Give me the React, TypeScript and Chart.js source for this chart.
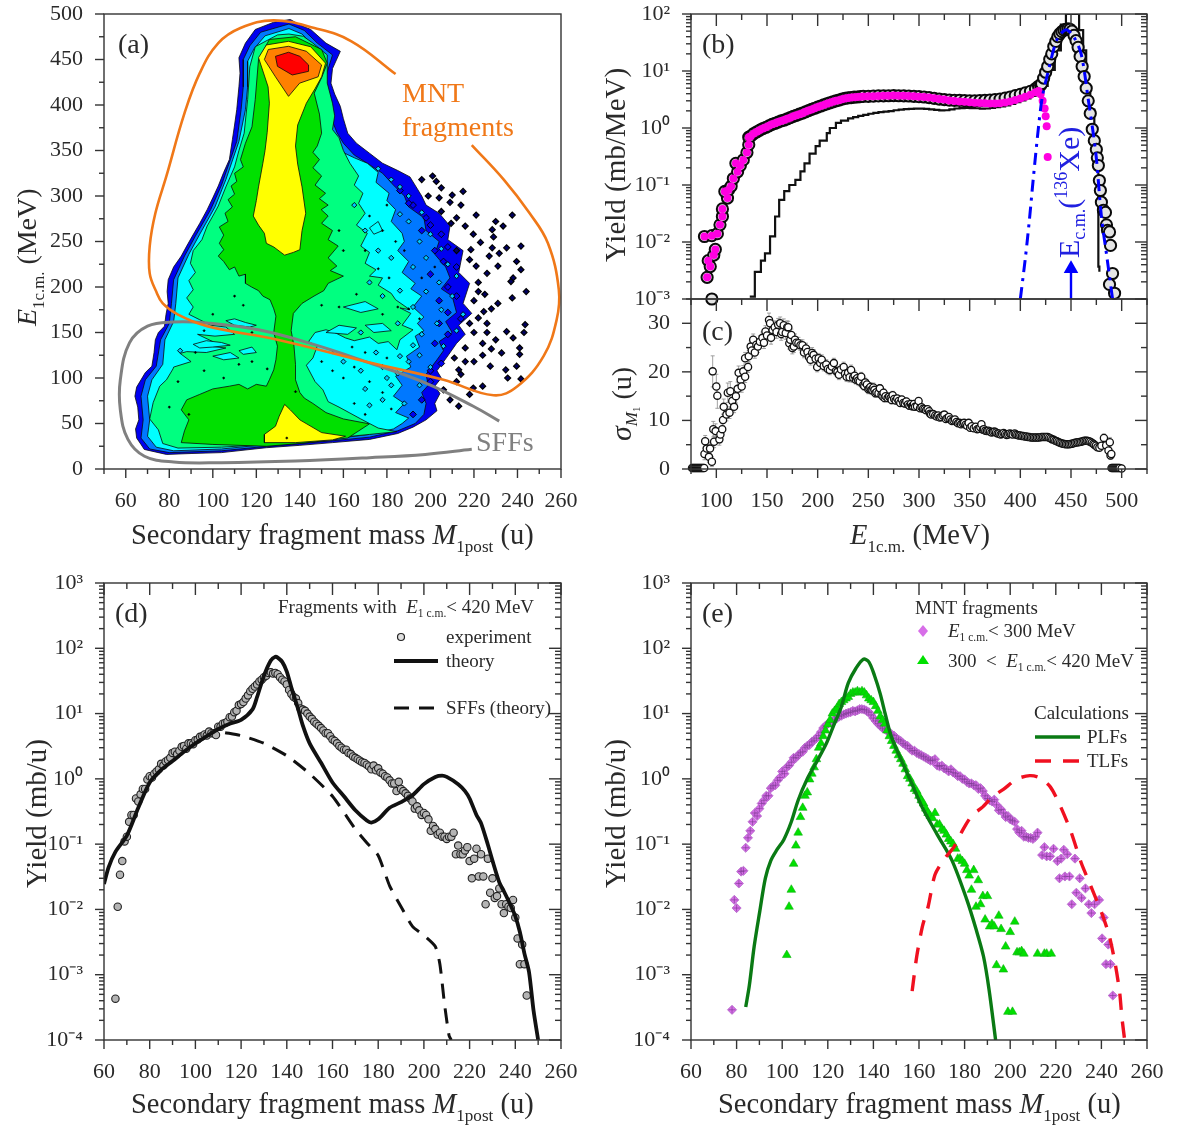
import React, { useEffect, useRef } from "react";
import { Chart, registerables } from "chart.js";
Chart.register(...registerables);

const W = 1177, H = 1126;
type P = [number, number];
const SERIF = '"Liberation Serif"';
const INK = "#2a2a2a";

// ---------- panel (a) contour levels ----------
const levelDarkBlue: P[] = [[135.6,494],[128,491],[119.5,483],[115,468],[112,452],[112.5,435],[112,420],[111,395],[110,378],[109,362],[107.6,340],[105,326],[102.5,311],[100,298],[97.4,285],[94,270],[90.6,256],[88,245],[85.5,234],[82,222],[79.5,208],[79,195],[79.5,182],[78.5,170],[77.8,157],[75,150],[73.6,142],[73,128],[72,113],[69,106],[67,98],[65,90],[64.2,80],[65.5,68],[66,54],[64.5,44],[65,34],[67,27],[68.5,21.5],[78.7,16],[90,17],[104,18],[124.6,23.4],[140,26],[155,29],[172,32.5],[185,39],[192,46],[198,54],[203,64],[202,72],[204.4,83],[202,91],[205,100],[203,108],[207.6,123],[212,138],[216,148],[213,158],[219,171],[215,182],[218,204],[213,216],[215,240],[208,252],[209,267],[204,281],[198,290],[196,300],[190.6,321],[185,328],[178,336],[172,347],[166,358],[162,369],[160,385],[158.6,398.5],[156,412],[154.3,424],[155,440],[158.6,459],[152,468],[145,483],[140,488]];
const levelMidBlue: P[] = [[135,489],[122,480],[117,465],[114,450],[114,420],[113,395],[111,360],[104,312],[99,285],[92,256],[87,234],[82,208],[81,182],[80,160],[76,142],[74,113],[69,98],[67,80],[68,54],[67,34],[71,22],[80,18],[104,20],[125,25],[155,31],[172,35],[185,42],[193,50],[197,60],[198,72],[196,84],[199,92],[198,104],[203,120],[206,130],[204,140],[210,150],[207,162],[212,172],[210,190],[205,198],[209,210],[207,222],[202,236],[204,250],[198,262],[197,276],[190,288],[188,300],[183,312],[178,325],[171,336],[165,345],[160,358],[157,370],[155,382],[154,395],[151,424],[155,455],[148,468],[142,482]];
const levelCyan: P[] = [[135,484],[124,476],[119,462],[116,448],[116,420],[115,395],[112,360],[106,318],[101,288],[94,258],[89,236],[84,210],[83,182],[82,162],[78,142],[77,115],[72,98],[70,80],[71,54],[70,36],[74,24],[82,20],[104,22],[125,27],[155,33],[172,38],[183,44],[187,50],[190,56],[184,62],[188,72],[183,80],[187,92],[184,102],[191,112],[189,124],[195,134],[193,146],[197,152],[194,160],[197,167],[192,178],[196,190],[191,198],[193,204],[187,216],[190,228],[185,240],[188,250],[187,259],[182,272],[184,285],[180,295],[181,303],[175,315],[176,326],[171,336],[165,342],[158,350],[152,358],[150,370],[151,382],[150,395],[148,424],[152,452],[146,466],[141,478]];
const levelSpring: P[] = [[135,478],[129.7,477],[119.5,464],[117,442],[116,406],[114.4,369],[112,350],[110,332],[106,310],[102.5,289],[100,278],[97.4,267],[95,252],[91,240],[89.7,226],[92,216],[89,207],[91,197],[88,188],[91,178],[89,170],[94,164],[99,158],[106,156],[110,148],[101,146],[93,148],[100,140],[94,136],[106,133],[97,128],[88,129],[85,127],[90,118],[82,112],[81.7,110],[78.7,98],[75.6,91],[72.6,73],[71,55],[75,43],[77,28],[84,23],[104,24],[124.6,27],[155,34],[172,38],[184.5,41],[176,45],[172,50],[168,55],[163,61.5],[158,68],[153,74],[150.6,87],[147,96],[143,114],[146,122],[148,135],[144,140],[147,150],[152,153],[156,150],[161,144],[165,141],[172,145],[176,138],[180.6,140],[184.6,131],[186,142],[192,153],[187,158],[191,171],[186,177],[190.6,175],[184,186],[182,193],[176,202],[178,210],[172,212],[175,219],[170,226],[172,238],[168,245],[171,259],[166,268],[170,281],[167,292],[169,303],[165,312],[167,322],[163,336],[160,350],[158,364],[155,373],[156,388],[155,402],[152.6,424],[152.6,455],[146,468],[141.6,475.5]];
const levelGreen: P[] = [[138,475],[126,472],[121,450],[119.5,406],[118,376],[115,358],[112.7,340],[114,332],[110,325],[111,316],[108.4,311],[110,302],[107,296],[109,288],[105.6,281],[107,272],[103,266],[105,257],[103,248],[105,241],[102.5,234],[105,228],[107.6,219],[110,222],[112,212],[115,214],[115,204],[117.8,200],[121,196],[123,190],[126.3,186],[128,176],[129,168],[128,150],[129.7,135],[129,120],[128,109],[126,98],[124.6,91],[120,93],[116,88],[112,93],[107.6,91],[100,88],[94,82],[88,76],[85.5,65],[89,54],[87,42],[85.5,29],[100,27],[124.6,25],[140,28],[162,34],[172,49.6],[160,55],[152,62],[146,72],[142,78],[140,84],[138,98],[138,115],[137.3,135],[136,152],[137,171],[141,182],[146.5,190],[151,196],[153,204],[160,212],[154,218],[157,223],[153,232],[157.6,245],[153,252],[155,262],[150,270],[153,278],[149.8,285],[153,290],[149,297],[151.8,303],[147,312],[150,322],[146,331],[149,340],[146,348],[148,355],[150,369],[149,390],[146.6,413],[150,430],[152.6,446],[150,461]];
const levelYellowTop: P[] = [[134.8,470],[124.6,466],[121,452],[125.4,420],[126,402],[125,370],[124,350],[123,336],[121,310],[120,295],[118.6,278],[121,268],[123.7,259],[124.6,248],[128,244],[133,235],[137,238],[140,241],[141,262],[142.7,281],[141,310],[139,335],[138,355],[139,378],[143,402],[147,418],[150,431],[151.8,446],[145,464]];
const levelOrange: P[] = [[134.8,464.5],[125.5,461],[123.7,450],[128.8,431],[134.8,409.5],[139.9,424],[148.4,431],[150,444],[143,459]];
const levelRed: P[] = [[134.8,458],[128.8,453.5],[129.7,442.5],[136.5,433],[144,437],[144,444],[140,453.5]];
const levelYellowBottom: P[] = [[133,71],[130.5,58],[128.8,47],[123.7,38],[123.7,29],[138,29],[155,32],[161,36],[150,40],[140,54],[135.6,65]];
const cyanIslands: P[][] = [
  [[106,163],[110,165],[115,161],[120,158],[117,156],[110,158]],
  [[91,137],[97,141],[104,139],[108,136],[100,134],[94,133]],
  [[100,124],[108,128],[112,122],[105,120]],
  [[112,130],[118,134],[120,128],[114,126]],
  [[152,150],[158,158],[166,155],[162,148]],
  [[170,158],[178,160],[182,152],[174,150]],
  [[172,265],[176,272],[178,262],[174,258]],
  [[160,178],[170,184],[176,176],[168,172]],
];
const orangeCurve: P[] = [[184,434],[163.7,470],[146.7,484.6],[128,493],[112.7,484.6],[102.5,468],[94,435],[87,391],[78.7,322],[73.6,281],[71,245],[71,215],[74,195],[77,182],[83.8,170],[97.4,157],[129.7,142],[172,117],[206,98],[229,81],[240,91],[252,124],[258,164],[259,197],[254,248],[245.6,281],[233.7,318],[219,356]];
const grayCurve: P[] = [[231.6,52.6],[219.7,69],[197.6,94.7],[172,116.6],[146.7,136.7],[121,153],[97.4,160.5],[82,161.6],[70,157],[61.7,138.6],[57.5,98],[57.5,65],[61,32.5],[68.6,14],[82,7.7],[104,7],[138,8.8],[172,12.4],[197.6,16],[219,21.6]];
const speckles: P[] = [[201,322],[202.7,316],[196,318],[205,309],[199,300],[215,305],[210,301],[204,298],[209,293],[221,279],[214,290],[237.6,279],[230,272],[233.4,267],[212,276],[205,283],[209.5,270],[216,267],[228.4,263],[219.7,258],[229,255],[241.6,245],[235,243],[228.4,243],[223,249],[231.6,237],[239.6,228],[227,234],[218.6,241],[241.6,219],[238,210],[231,223],[226,215],[221,223],[237,206],[244,195],[237.6,188],[231,182],[224.5,173],[243.5,158.7],[243,150],[235,151],[238,144],[230,142],[241,133],[232.7,127.6],[227.5,113],[241,126],[239.6,113],[234.6,109],[235.5,100],[241.6,99],[214,104],[213,109],[224,91],[219.7,89],[218,82],[213,69],[206,87],[209,76],[226,160],[222,195],[218,230],[212,240],[220,150],[216,133],[224,125],[211,122],[222,205],[225,192],[220,185],[228,176],[222,166],[226,150],[218,160],[224,138],[228,132],[220,118],[216,118],[212,96]];
const blueBlobs: P[] = [[192,290],[198,276],[200,268],[205,258],[196,262],[208,244],[202,240],[206,228],[212,222],[200,214],[208,200],[212,190],[204,185],[208,172],[214,165],[204,160],[208,148],[202,138],[205,116],[200,108],[200,96],[196,76],[192,60],[190,292],[186,306]];
const innerPatches: P[] = [[190,300],[186,310],[182,318],[176,330],[196,282],[190,272],[200,258],[195,250],[205,242],[198,232],[208,225],[192,222],[212,212],[204,205],[210,190],[198,195],[205,175],[192,178],[215,170],[203,160],[212,152],[196,148],[206,135],[195,125],[200,112],[190,118],[185,105],[195,92],[182,92],[188,72],[178,76],[170,88],[160,118],[168,108],[175,128],[178,112],[186,124],[180,100],[172,70],[192,136],[186,196],[182,232],[186,280],[170,262],[176,240],[165,290],[172,205],[178,190],[168,150],[185,160],[85,130]];
const blackSpecks: P[] = [[180,290],[178,262],[172,278],[184,250],[176,220],[188,240],[181,210],[170,240],[185,178],[178,170],[164,134],[170,128],[180,122],[165,112],[172,96],[160,100],[155,108],[178,84],[165,72],[170,60],[182,66],[110,190],[118,150],[100,170],[96,108],[105,100],[92,128],[112,115],[96,152],[118,118],[84,96],[80,68],[89,60],[158,178],[166,192],[150,180],[155,128],[150,118],[196,210],[202,222],[190,176],[195,165],[160,240],[158,262],[134,34],[114,180],[125,110],[138,85]];

// ---------- panel (b) ----------
const bCircles: P[] = [[95.6,0.001],[88.3,0.0125],[90.9,0.0024],[92,0.0047],[94,0.0037],[97.5,0.0059],[99,0.0074],[95.6,0.0129],[101,0.014],[103.6,0.02],[106,0.028],[106,0.038],[111,0.059],[108.4,0.077],[112,0.082],[114.6,0.095],[116.8,0.13],[121,0.17],[119.3,0.24],[123.7,0.22],[126.6,0.275],[130.2,0.37],[132,0.51],[132,0.69],[134,0.72],[137,0.8],[140,0.86],[143,0.92],[146,0.98],[149,1.03],[152,1.09],[155,1.16],[158,1.21],[161,1.27],[164,1.33],[167,1.38],[170,1.45],[173,1.52],[176,1.6],[179,1.67],[182,1.75],[185,1.82],[188,1.92],[191,2.02],[194,2.12],[197,2.22],[200,2.33],[203,2.43],[206,2.54],[209,2.65],[212,2.77],[215,2.88],[218,3],[221,3.08],[224,3.2],[227,3.3],[230,3.37],[233,3.42],[236,3.47],[239,3.5],[242,3.55],[245,3.58],[250,3.6],[255,3.62],[260,3.65],[265,3.67],[270,3.68],[275,3.7],[280,3.68],[285,3.67],[290,3.64],[295,3.6],[300,3.55],[305,3.5],[310,3.42],[315,3.32],[320,3.22],[325,3.15],[330,3.08],[335,3.05],[340,3.05],[345,3.02],[350,3],[355,3],[360,3.02],[365,3.05],[370,3.1],[375,3.15],[380,3.22],[385,3.35],[390,3.5],[395,3.7],[400,3.9],[405,4.15],[410,4.4],[415,4.9],[418,5.4],[420,5.6],[421,6],[423,7.5],[425,9.5],[427,12],[429,16],[431,20],[433,27],[435,33],[437,40],[439,45],[441,49],[443,52],[445,54],[447,55],[449,54],[451,50],[453,42],[455,34],[457,26],[459,18],[461,12],[463,8],[465,5],[467,3],[469,1.8],[471,0.95],[473,0.6],[475,0.42],[476,0.3],[477,0.22],[478,0.12],[479,0.08],[480,0.05],[482,0.036],[484,0.033],[485,0.02],[486,0.016],[488,0.015],[489,0.0087],[491,0.0028],[488,0.0018],[493,0.00126]];
const bMagenta: P[] = [[88.3,0.0125],[90.9,0.0024],[92,0.0047],[94,0.0037],[97.5,0.0059],[99,0.0074],[95.6,0.0129],[101,0.014],[103.6,0.02],[106,0.028],[106,0.038],[111,0.059],[108.4,0.077],[112,0.082],[114.6,0.095],[116.8,0.13],[121,0.17],[119.3,0.24],[123.7,0.22],[126.6,0.275],[130.2,0.37],[132,0.51],[132,0.69],[134,0.72],[137,0.8],[140,0.86],[143,0.92],[146,0.98],[149,1.03],[152,1.09],[155,1.16],[158,1.21],[161,1.27],[164,1.33],[167,1.38],[170,1.45],[173,1.52],[176,1.6],[179,1.67],[182,1.75],[185,1.82],[188,1.92],[191,2.02],[194,2.12],[197,2.22],[200,2.33],[203,2.43],[206,2.54],[209,2.65],[212,2.77],[215,2.88],[218,3],[221,3.08],[224,3.2],[227,3.3],[230,3.37],[233,3.42],[236,3.47],[239,3.5],[242,3.55],[245,3.58],[250,3.6],[255,3.62],[260,3.65],[265,3.67],[270,3.68],[275,3.7],[280,3.68],[285,3.67],[290,3.64],[295,3.6],[300,3.55],[305,3.5],[310,3.42],[315,3.32],[320,3.22],[325,3.15],[330,3.05],[335,2.98],[340,2.92],[345,2.88],[350,2.82],[355,2.78],[360,2.75],[365,2.72],[370,2.7],[375,2.68],[380,2.72],[385,2.8],[390,2.92],[395,3.1],[400,3.3],[405,3.55],[410,3.85],[415,4.25],[418,4.45],[420,3.9],[422,3],[424,2.2],[425,1.6],[426,1.07],[427,0.31]];
const bHistogram: P[] = [[133,0.0011],[138,0.003],[144,0.0047],[148,0.0063],[153,0.0126],[158,0.028],[162,0.055],[167,0.078],[172,0.1],[178,0.123],[183,0.174],[187,0.24],[192,0.355],[198,0.48],[202,0.6],[209,0.81],[212,1],[218,1.23],[223,1.35],[230,1.48],[235,1.55],[240,1.63],[245,1.7],[250,1.78],[255,1.84],[260,1.9],[265,1.94],[270,1.98],[275,2.05],[280,2.1],[285,2.14],[290,2.17],[295,2.19],[300,2.19],[305,2.17],[310,2.13],[315,2.08],[320,2.04],[325,2.05],[330,2.12],[335,2.2],[340,2.24],[345,2.25],[350,2.24],[355,2.22],[360,2.19],[365,2.2],[370,2.25],[375,2.32],[380,2.4],[385,2.5],[390,2.65],[395,2.85],[400,3.05],[405,3.3],[410,3.65],[415,4.1],[420,4.7],[423,5.5],[427,10.5],[434,23],[440,65],[445,100],[453,100],[458,52],[462,23],[465,5.4],[469,2.1],[473,0.62],[475,0.21],[477,0.0037],[478,0.003]];
const bBlueCurve: P[] = [[400,0.001],[405,0.0053],[409,0.025],[412.6,0.12],[418,1.07],[421.7,3.5],[427,9],[436,35],[445,53],[452.6,40],[460,20],[467,3.2],[474.5,0.36],[480,0.028],[485.4,0.0055],[491,0.001]];
const bArrow: P[] = [[450,0.001],[450,0.0034]];

// ---------- panel (c) [E, sigma, error] ----------
const cPoints: [number, number, number][] = [[76,0.2,0],[77,0.2,0],[78,0.2,0],[79,0.2,0],[80,0.2,0],[81,0.2,0],[82,0.2,0],[83,0.2,0],[84,0.2,0],[85,0.2,0],[86,0.2,0],[87,0.2,0],[88,0.2,0],[89,5.7,1.2],[88.3,3.1,1.2],[90.5,4.2,1.2],[92.7,2.5,1.1],[95.6,1.5,1],[93.8,4.2,1.2],[96.4,20.1,3.2],[97.8,5.6,1.2],[97,8.2,1.6],[100,17,2.5],[101,15.1,2.6],[99.3,7.8,1.5],[103,6.1,1.2],[104,7.1,1.2],[105.8,8.2,1.2],[107.3,12.8,1.6],[106.6,10.1,1.2],[110,11.2,1.3],[111.3,15.7,2],[113,11.6,1.2],[113.8,16,2],[115.7,14,1.5],[117.5,12.8,1.2],[119.3,15,1.4],[121,16.5,1.4],[122,19.8,1.4],[124,18.4,1.3],[125,17,1.2],[126.6,20.1,1.2],[128.4,19,1.2],[128.4,22.8,1.2],[131.3,21,1.1],[132,23.2,1.2],[133.9,25.2,1.2],[135,24.4,1.2],[136.4,26.6,1.2],[138,24,1.2],[139.5,25.6,1.2],[141,25.2,1.2],[143,26.2,1.2],[145.5,27,1.2],[147,26,1.2],[148.5,28.3,1.2],[150,27.5,1.2],[152,30.7,1.4],[153,30,1.3],[154,27,1.3],[155.5,28.6,1.3],[157.6,29.2,1.3],[159.4,28.2,1.3],[161,29.7,1.3],[163,30,1.3],[164,27.8,1.3],[165,28.2,1.3],[166.5,29.6,1.3],[168.5,28,1.3],[170,29.2,1.3],[171,29.2,1.2],[172,25.9,1.2],[173,26.6,1.2],[174,27.6,1.2],[175,24.9,1.2],[176.5,25.2,1.2],[177.6,26.6,1.2],[179,26,1.2],[181,25.9,1.2],[183,25.5,1.1],[185,25.5,1.1],[186.5,24,1.1],[188.5,24.8,1.1],[190,24.1,1.1],[191.5,23,1.1],[193,22.5,1.1],[194.5,23.9,1.1],[196,23.5,1.1],[198,22.7,1],[199.5,21,1],[201,22.8,1],[202.5,21.8,1],[204,22.5,1],[206,21.2,1],[208.5,21.5,1],[210,20.6,1],[212,20.4,1],[214,21.1,1],[216,21.8,1],[218,20.2,1],[219.5,20,1],[221,19.4,1],[223,20.5,1],[225.7,21,1],[227,19.6,1],[228.6,19,1],[230,19.8,1],[231.5,18.9,1],[233,20.4,1],[235,18.8,1],[236.5,19.2,1],[237.7,18.4,0.9],[239,18.7,0.9],[240,18.2,0.9],[241.5,18,0.9],[243,19,0.9],[245,17.3,0.9],[246,17.1,0.9],[247,17.8,0.9],[248.6,17.4,0.9],[250,16.4,0.9],[251,16.6,0.9],[252,16.9,0.9],[253,16.3,0.9],[254,16.2,0.9],[255,16.8,0.9],[256,16.3,0.8],[257,15.6,0.8],[258,15.8,0.8],[260,15.6,0.8],[261.4,16.6,0.8],[263,15.3,0.8],[264,15,0.8],[265,15.7,0.8],[266,14.6,0.8],[267,15,0.8],[269,14.6,0.8],[270.5,14.9,0.8],[272,14.6,0.8],[273,14.2,0.8],[274,15.2,0.8],[275.5,14.4,0.8],[277,14.1,0.7],[278.5,14.5,0.7],[280,14,0.7],[281.5,13.6,0.7],[283,14.3,0.7],[284.5,13.6,0.7],[286,13.5,0.7],[287.5,13.9,0.7],[289,13.3,0.7],[290.5,13,0.7],[292,13.4,0.7],[293,12.9,0.6],[294,12.9,0.6],[295,13.4,0.6],[296,12.8,0.6],[298,12.9,0.6],[299.6,14,0.6],[301,12.5,0.6],[302.5,12.7,0.6],[304,12.4,0.6],[305.5,12.3,0.6],[307,12.1,0.5],[308.5,12.3,0.5],[310,11.9,0.5],[311,11.4,0.5],[312,11.2,0.5],[314,11.3,0.5],[316,11,0.5],[317.5,10.8,0.5],[319,11,0.5],[320.5,10.6,0.5],[322,10.7,0.5],[323.5,11,0.5],[325,11.2,0.5],[326.5,10.3,0.5],[328,10.5,0.5],[329.5,10.7,0.5],[331,10.2,0.5],[332.5,9.9,0.5],[334,10,0.5],[335.5,10.2,0.5],[337,9.7,0.4],[338.5,9.4,0.4],[340,9.5,0.4],[341.5,9.2,0.4],[343,9.4,0.4],[344.5,9.5,0.4],[346,9.1,0.4],[347.5,8.9,0.4],[349,9.5,0.4],[350.5,8.5,0.4],[352,8.8,0.4],[354,8.4,0.4],[356,8.7,0.4],[357.5,8.2,0.4],[359,8.3,0.4],[360.5,8.6,0.4],[361.6,9.2,0.4],[363,8.1,0.3],[364,8.2,0.3],[365.5,7.9,0.3],[367,7.8,0.3],[368.5,7.9,0.3],[370,7.7,0.3],[371.5,7.5,0.3],[373,7.6,0.3],[374.5,7.7,0.3],[376,7.5,0.3],[377.5,7.3,0.3],[379,7.3,0.3],[380.5,7.1,0.3],[382,7.2,0.3],[383.5,7.4,0.3],[385,7.2,0.3],[386.5,7,0.3],[388,7.1,0.3],[389.5,7.3,0.3],[391,7.2,0.3],[392.5,7.1,0.3],[394.4,7.3,0.3],[395.5,7.1,0.2],[397,7,0.2],[398.5,6.9,0.2],[400,6.9,0.2],[401.5,6.8,0.2],[403,6.8,0.2],[404.5,6.7,0.2],[406,6.7,0.2],[407.5,6.6,0.2],[409,6.6,0.2],[410.5,6.5,0.2],[412,6.5,0.2],[413.5,6.5,0.2],[415,6.5,0.2],[416.5,6.5,0.2],[418,6.5,0.2],[419.5,6.55,0.2],[421,6.6,0.2],[422.5,6.6,0.2],[424,6.6,0.2],[425.5,6.6,0.2],[427,6.6,0.2],[428.5,6.45,0.2],[430,6.3,0.2],[431.5,6.1,0.2],[433,6,0.2],[434.5,5.8,0.2],[436,5.7,0.2],[437.5,5.55,0.2],[439,5.4,0.2],[440.5,5.3,0.2],[442,5.2,0.2],[443.5,5.15,0.2],[445,5.1,0.2],[446.5,5.1,0.2],[448,5.1,0.2],[449.5,5.15,0.2],[451,5.2,0.2],[452.5,5.3,0.2],[454,5.4,0.2],[455.5,5.45,0.2],[457,5.5,0.2],[458.5,5.55,0.2],[460,5.6,0.2],[461.5,5.7,0.2],[463,5.8,0.2],[464.5,5.8,0.2],[466,5.8,0.2],[467.5,5.7,0.2],[469,5.6,0.3],[470.5,5.4,0.3],[472,5.2,0.3],[473,5,0.3],[474.5,4.8,0.3],[476,4.5,0.3],[478,4.4,0.4],[480,4.8,0.5],[482.5,6.4,0.8],[484.7,4.9,0.7],[487,3.8,0.8],[488.3,5.5,1],[489,2.8,0.8],[489.8,3.1,0.8],[490,0.2,0],[491,0.2,0],[492,0.2,0],[493,0.2,0],[494,0.2,0],[495,0.2,0],[496,0.2,0],[497,0.2,0],[498,0.2,0],[500,0.1,0]];

// ---------- panel (d) ----------
const dExperiment: P[] = [[65,0.00043],[66,0.011],[67,0.034],[68,0.055],[69,0.11],[70,0.13],[71,0.22],[72,0.28],[73,0.28],[74,0.5],[75,0.45],[76,0.58],[77,0.7],[78,0.7],[79,0.98],[80,1.1],[81,1.05],[82,1.2],[83,1.3],[84,1.4],[85,1.7],[86,1.6],[87,1.85],[88,1.95],[89,2.1],[90,2.5],[91,2.6],[92,2.4],[93,2.7],[94,3.1],[95,3.2],[96,2.9],[97,3.5],[98,3.5],[99,3.4],[100,3.9],[101,4],[102,4.4],[103,4.5],[104,4.8],[105,4.6],[106,5.3],[107,5],[108,5],[109,4.7],[110,6.3],[111,6.3],[112,7],[113,7.2],[114,7.5],[115,8.8],[116,9],[117,10.5],[118,11],[119,13.5],[120,14],[121,15],[122,17],[123,19],[124,22],[125,24],[126,26],[127,28],[128,31],[129,33],[130,36],[131,38],[132,42],[133,43],[134,41],[135,42],[136,40],[137,36],[138,33],[139,31],[140,28],[141,23],[142,20],[143,18],[144,17],[145,14.5],[146,12],[147,11.5],[148,11],[149,10],[150,9],[151,8.3],[152,7.5],[153,7],[154,6.5],[155,6],[156,5.5],[157,5],[158,5],[159,4.5],[160,4],[161,3.8],[162,3.5],[163,3.2],[164,3],[165,2.8],[166,2.8],[167,2.5],[168,2.4],[169,2.2],[170,2.1],[171,2],[172,1.9],[173,1.8],[174,1.75],[175,1.65],[176,1.55],[177,1.4],[178,1.6],[179,1.35],[180,1.45],[181,1.25],[182,1.2],[183,1.1],[184,1.05],[185,0.95],[186,0.85],[187,0.85],[188,0.65],[189,0.9],[190,0.7],[191,0.65],[192,0.6],[193,0.55],[194,0.5],[195,0.45],[196,0.35],[197,0.38],[198,0.33],[199,0.28],[200,0.3],[201,0.28],[202,0.24],[203,0.16],[204,0.19],[205,0.17],[206,0.14],[207,0.15],[208,0.13],[209,0.13],[210,0.12],[211,0.13],[212,0.13],[213,0.15],[214,0.07],[215,0.095],[216,0.07],[217,0.07],[218,0.08],[219,0.09],[220,0.055],[221,0.03],[222,0.06],[223,0.085],[224,0.032],[225,0.07],[226,0.032],[227,0.012],[228,0.06],[229,0.018],[230,0.03],[231,0.015],[232,0.016],[233,0.021],[234,0.012],[235,0.0088],[236,0.012],[237,0.011],[238,0.0105],[239,0.014],[240,0.0075],[241,0.0036],[243,0.0029],[242,0.00145],[244,0.00145],[245,0.00048]];
const dTheory: P[] = [[60,0.0245],[62,0.044],[65,0.076],[70,0.135],[75,0.36],[80,0.88],[85,1.37],[90,1.87],[95,2.6],[100,3.5],[105,4.5],[110,5.8],[115,7],[120,8],[125,11.6],[127,18],[130,38],[133,65],[135,74],[136,72],[138,62],[140,44],[142,25],[145,11.6],[147,6.6],[150,3.5],[155,1.76],[160,0.88],[165,0.54],[170,0.33],[175,0.23],[177,0.214],[180,0.24],[185,0.36],[190,0.44],[195,0.56],[200,0.83],[205,1.07],[208,1.12],[210,1.07],[215,0.83],[218,0.65],[220,0.5],[223,0.28],[225,0.21],[228,0.098],[230,0.056],[233,0.026],[235,0.019],[238,0.0115],[240,0.0079],[242,0.0045],[244,0.0021],[246,0.0011],[248,0.00028],[250,0.0001]];
const dSff: P[] = [[113,5.1],[120,4.6],[130,3.5],[140,2.26],[150,1.2],[160,0.54],[170,0.17],[175,0.105],[180,0.067],[185,0.023],[190,0.011],[195,0.0055],[200,0.004],[205,0.0027],[207,0.00145],[209,0.00036],[211,0.000117],[212,0.0001]];

// ---------- panel (e) ----------
const ePurple: P[] = [[78,0.00029],[79,0.014],[80,0.0105],[81,0.025],[82,0.038],[83,0.039],[84,0.088],[85,0.125],[86,0.16],[87,0.22],[88,0.3],[89,0.27],[90,0.35],[91,0.42],[92,0.47],[93,0.55],[94,0.55],[95,0.72],[96,0.78],[97,0.8],[98,0.95],[99,1.05],[100,1.3],[101,1.2],[102,1.5],[103,1.6],[104,1.8],[105,2.1],[106,2.1],[107,2.3],[108,2.5],[109,2.6],[110,3],[111,3.2],[112,3.3],[113,3.7],[114,3.9],[115,4.2],[116,4.6],[117,5.2],[118,6],[119,6.5],[120,7],[121,7.3],[122,7.6],[123,8],[124,8.5],[125,9],[126,9.3],[127,9.7],[128,10],[129,10.3],[130,10.5],[131,11],[132,10.8],[133,11.2],[134,11.7],[135,11.7],[136,11.5],[137,11],[138,10.5],[139,9.5],[140,8.5],[141,7.7],[142,7],[143,6.5],[144,6],[145,5.8],[146,5.6],[147,5],[148,4.8],[149,4.6],[150,4.2],[151,4],[152,3.8],[153,3.5],[154,3.3],[155,3.2],[156,2.9],[157,2.7],[158,2.7],[159,2.5],[160,2.4],[161,2.3],[162,2.2],[163,2.1],[164,2],[165,1.9],[166,1.9],[167,2],[168,1.6],[169,1.55],[170,1.6],[171,1.45],[172,1.4],[173,1.3],[174,1.4],[175,1.25],[176,1.2],[177,1.1],[178,1.1],[179,1],[180,0.98],[181,0.9],[182,0.85],[183,0.85],[184,0.8],[185,0.8],[186,0.7],[187,0.72],[188,0.65],[189,0.55],[190,0.5],[191,0.47],[192,0.45],[193,0.48],[194,0.4],[195,0.33],[196,0.34],[197,0.3],[198,0.26],[199,0.27],[200,0.24],[201,0.23],[202,0.22],[203,0.17],[204,0.15],[205,0.16],[206,0.13],[207,0.13],[208,0.125],[209,0.125],[210,0.12],[211,0.13],[212,0.15],[214,0.068],[215,0.09],[216,0.065],[217.5,0.065],[219,0.085],[220.7,0.055],[221.6,0.03],[222.3,0.06],[223.5,0.082],[224,0.032],[225,0.07],[226,0.032],[227,0.012],[228.4,0.06],[229,0.018],[230.5,0.03],[231.3,0.015],[233,0.021],[234.5,0.012],[235.6,0.0088],[237,0.012],[239,0.014],[240.3,0.0036],[241,0.0075],[243,0.0029],[242,0.00145],[244,0.00145],[245,0.00048]];
const eGreen: P[] = [[102,0.002],[103,0.011],[104,0.02],[105,0.05],[106,0.095],[107,0.15],[108,0.26],[109,0.36],[110,0.55],[111,0.62],[112,0.98],[113,1.2],[114,1.5],[115,2],[116,3],[117,3.5],[118,4.5],[119,5.5],[120,6.8],[121,8],[122,10],[123,11],[124,12],[125,14],[126,15],[127,16],[128,17],[129,18],[130,20],[131,21],[132,21],[133,22],[134,21],[135,22],[136,21],[137,19],[138,17],[139,16],[140,15],[141,13],[142,11],[143,9],[144,8],[145,7],[146,5.5],[147,4.5],[148,3.8],[149,3.2],[150,2.7],[151,2.3],[152,2],[153,1.7],[154,1.4],[155,1.1],[156,1],[157,0.85],[158,0.7],[159,0.65],[160,0.55],[161,0.47],[162,0.42],[163,0.35],[164,0.3],[165,0.27],[166,0.25],[167,0.3],[168,0.2],[169,0.2],[170,0.17],[171,0.16],[172,0.14],[173,0.12],[174,0.11],[175,0.1],[176,0.085],[177,0.06],[178,0.06],[179,0.055],[180,0.05],[181,0.04],[182,0.033],[183,0.02],[184,0.04],[185,0.011],[186,0.028],[187,0.012],[188,0.016],[189,0.007],[190,0.016],[191,0.0055],[192,0.006],[193,0.0055],[194,0.0014],[195,0.008],[196,0.005],[197,0.0012],[198,0.0027],[199,0.00027],[200,0.0045],[201,0.00027],[202,0.0065],[203,0.0022],[204,0.0022],[205,0.0023],[206,0.0021],[212,0.0021],[215,0.0021],[216,0.0021],[218,0.0021]];
const ePlf: P[] = [[84,0.00032],[85.6,0.00069],[87.7,0.0027],[90.2,0.0095],[92.6,0.03],[95,0.056],[97.5,0.08],[100.7,0.117],[104,0.22],[107,0.47],[111,1],[115.3,1.87],[119.4,3.5],[122.6,6.6],[125.8,12.3],[129,29.5],[132.3,49],[135.6,68],[138,62],[140.5,38],[143,20],[145.3,9.5],[147.8,4.5],[151.8,2.1],[156.7,0.87],[161.5,0.36],[168,0.14],[174.5,0.056],[181,0.014],[185,0.005],[188.3,0.0019],[190.7,0.0006],[193.6,0.0001]];
const eTlf: P[] = [[157,0.00056],[159,0.0019],[161.5,0.0055],[164,0.011],[167,0.034],[171,0.059],[175.3,0.09],[179.4,0.17],[183.4,0.28],[187.5,0.36],[192.4,0.54],[197,0.69],[203,1],[208.6,1.12],[212.6,1.05],[217.5,0.76],[221.6,0.41],[226.5,0.16],[231.3,0.05],[234.5,0.027],[240.2,0.0087],[243.4,0.004],[246,0.0015],[248,0.00054],[249,0.00022],[250.2,0.0001]];

// ---------- ticks ----------
const massMajor = [60,80,100,120,140,160,180,200,220,240,260];
const massMinorA = [50,70,90,110,130,150,170,190,210,230,250];
const massMinorD = [70,90,110,130,150,170,190,210,230,250];
const aYMajor = [0,50,100,150,200,250,300,350,400,450,500];
const aYMinor = [25,75,125,175,225,275,325,375,425,475];
const eMajor = [100,150,200,250,300,350,400,450,500];
const eMinor = [75,125,175,225,275,325,375,425,475,525];
const cYMajor = [0,10,20,30];
const cYMinor = [5,15,25,35];
const decadesB = [0.001,0.01,0.1,1,10,100];
const decadesD = [0.0001,0.001,0.01,0.1,1,10,100,1000];
const decadeMultipliers = [2,3,4,5,6,7,8,9];

const SUP: Record<string,string> = {"-":"\u207B","0":"\u2070","1":"\u00B9","2":"\u00B2","3":"\u00B3","4":"\u2074"};
const logLabel = (v: number) => "10" + String(Math.round(Math.log10(v))).split("").map(c => SUP[c]).join("");
const minorsOf = (decades: number[]) => decades.slice(0,-1).flatMap(d => decadeMultipliers.map(m => d*m));
const xy = (a: P[]) => a.map(([x,y]) => ({x,y}));

type Frame = {left:number,top:number,right:number,bottom:number};
const FA: Frame = {left:104,top:14,right:561,bottom:469};
const FB: Frame = {left:691,top:14,right:1147,bottom:299};
const FC: Frame = {left:691,top:299,right:1147,bottom:469};
const FD: Frame = {left:104,top:583,right:561,bottom:1040};
const FE: Frame = {left:691,top:583,right:1147,bottom:1040};

type Run = {t:string,s:number,i?:boolean,dy?:number};
function drawRuns(ctx: any, x: number, y: number, runs: Run[], color = INK, rot = false) {
  ctx.save();
  ctx.fillStyle = color;
  ctx.textBaseline = "alphabetic";
  ctx.textAlign = "left";
  ctx.translate(x,y);
  if (rot) ctx.rotate(-Math.PI/2);
  let cx = 0;
  for (const r of runs) {
    ctx.font = `${r.i ? "italic " : ""}${r.s}px ${SERIF}`;
    ctx.fillText(r.t, cx, r.dy || 0);
    cx += ctx.measureText(r.t).width;
  }
  ctx.restore();
}

type TickSpec = {axis:"x"|"y",side:"left"|"right"|"top"|"bottom",major:number[],minor:number[],out:boolean};
function decorPlugin(ticks: TickSpec[], draw: (ctx:any, chart:any)=>void, errs?: {ds:number,data:[number,number,number][]}) {
  return {
    id: "decor",
    beforeDatasetsDraw(chart: any) {
      if (!errs) return;
      const {ctx} = chart; const xs = chart.scales.x, ys = chart.scales.y;
      ctx.save(); ctx.strokeStyle = "#8a8a8a"; ctx.lineWidth = 0.8;
      for (const [x,y,e] of errs.data) {
        if (!e) continue;
        const px = xs.getPixelForValue(x), a = ys.getPixelForValue(y-e), b = ys.getPixelForValue(y+e);
        ctx.beginPath(); ctx.moveTo(px,a); ctx.lineTo(px,b);
        ctx.moveTo(px-2,a); ctx.lineTo(px+2,a); ctx.moveTo(px-2,b); ctx.lineTo(px+2,b); ctx.stroke();
      }
      ctx.restore();
    },
    afterDraw(chart: any) {
      const {ctx, chartArea: A} = chart;
      ctx.save();
      ctx.strokeStyle = "#333"; ctx.lineWidth = 1.4;
      ctx.strokeRect(A.left, A.top, A.right-A.left, A.bottom-A.top);
      for (const t of ticks) {
        const sc = chart.scales[t.axis];
        const mk = (v: number, len: number) => {
          const p = sc.getPixelForValue(v);
          const sign = t.out ? 1 : -1;
          ctx.beginPath();
          if (t.side==="left") { ctx.moveTo(A.left,p); ctx.lineTo(A.left-sign*len,p); }
          if (t.side==="right") { ctx.moveTo(A.right,p); ctx.lineTo(A.right+sign*len,p); }
          if (t.side==="top") { ctx.moveTo(p,A.top); ctx.lineTo(p,A.top-sign*len); }
          if (t.side==="bottom") { ctx.moveTo(p,A.bottom); ctx.lineTo(p,A.bottom+sign*len); }
          ctx.stroke();
        };
        t.major.forEach(v => mk(v,t.out ? 9 : 12));
        t.minor.forEach(v => mk(v,t.out ? 5 : 6));
      }
      ctx.restore();
      draw(ctx, chart);
    },
  };
}

function opts(F: Frame, x: any, y: any, showX = true) {
  const tickFont = {family: SERIF, size: 22};
  const axis = (cfg: any, isX: boolean, show: boolean) => ({
    type: cfg.type || "linear", min: cfg.min, max: cfg.max,
    grid: {display:false}, border: {display:false},
    afterBuildTicks: (s: any) => { s.ticks = cfg.major.map((value: number) => ({value})); },
    afterFit: (s: any) => {
      if (isX) s.height = 40; else s.width = 70;
      s.paddingTop = 0; s.paddingBottom = 0; s.paddingLeft = 0; s.paddingRight = 0;
    },
    ticks: {display: show, autoSkip:false, maxRotation:0, minRotation:0, color: INK, font: tickFont, padding: isX ? 11 : 13,
      callback: cfg.type === "logarithmic" ? (v: number) => logLabel(v) : (v: number) => String(v)},
  });
  return {
    responsive:false, animation:false as const,
    layout:{padding:{left:F.left-70, top:F.top, right:W-F.right, bottom:H-F.bottom-40}},
    plugins:{legend:{display:false}, tooltip:{enabled:false}},
    scales:{x:axis(x,true,showX), y:axis(y,false,true)},
  };
}

const M1 = (s: number): Run[] => [{t:"Secondary fragment mass ",s},{t:"M",s,i:true},{t:"1post",s:s*0.6,dy:8},{t:" (u)",s}];
const E1 = (s: number): Run[] => [{t:"E",s,i:true},{t:"1c.m.",s:s*0.6,dy:8},{t:" (MeV)",s}];
const lineDs = (a: P[], color: string, w: number, extra: any = {}) => ({type:"scatter", data:xy(a), showLine:true, borderColor:color, borderWidth:w, pointRadius:0, ...extra});
const poly = (a: P[], color: string, order: number) => ({type:"scatter", data:xy([...a,a[0]]), showLine:true, fill:"shape", backgroundColor:color, borderColor:"#0a0a0a", borderWidth:0.8, pointRadius:0, order, tension:0});

export default function App() {
  const refs = [useRef<HTMLCanvasElement>(null),useRef<HTMLCanvasElement>(null),useRef<HTMLCanvasElement>(null),useRef<HTMLCanvasElement>(null),useRef<HTMLCanvasElement>(null)];
  useEffect(() => {
    const cfgs: any[] = [];
    // (a)
    cfgs.push({
      type:"scatter",
      data:{datasets:[
        poly(levelDarkBlue,"#0000f0",20),
        poly(levelMidBlue,"#0078ff",18),
        poly(levelCyan,"#00ffff",17),
        poly(levelSpring,"#00ff80",16),
        ...cyanIslands.map(a => poly(a,"#00ffff",15.5)),
        poly(levelGreen,"#00e000",15),
        poly(levelYellowTop,"#ffff00",14),
        poly(levelYellowBottom,"#ffff00",13),
        poly(levelOrange,"#ff8000",12),
        poly(levelRed,"#ff0000",11),
        {type:"scatter",data:xy(blueBlobs),pointStyle:"rectRot",pointRadius:3.4,backgroundColor:"#0000f0",borderColor:"#000",borderWidth:0.9,order:6},
        {type:"scatter",data:xy(innerPatches),pointStyle:"rectRot",pointRadius:2.6,backgroundColor:"#00c8ff",borderColor:"#000",borderWidth:0.9,order:5},
        {type:"scatter",data:xy(blackSpecks),pointStyle:"rectRot",pointRadius:1.3,backgroundColor:"#000",borderColor:"#000",borderWidth:0.4,order:5},
        {type:"scatter",data:xy(speckles),pointStyle:"rectRot",pointRadius:3,backgroundColor:"#000060",borderColor:"#000",borderWidth:1.2,order:5},
        lineDs(grayCurve,"#808080",3,{tension:0.4,order:2,clip:false}),
        lineDs(orangeCurve,"#f07818",2.6,{tension:0.4,order:1,clip:false}),
      ]},
      options:opts(FA,{min:50,max:260,major:massMajor},{min:0,max:500,major:aYMajor}),
      plugins:[decorPlugin([
        {axis:"x",side:"bottom",major:massMajor,minor:massMinorA,out:true},
        {axis:"y",side:"left",major:aYMajor,minor:aYMinor,out:true},
      ],(ctx)=>{
        drawRuns(ctx,118,53,[{t:"(a)",s:28}]);
        drawRuns(ctx,402,102,[{t:"MNT",s:28}],"#f07818");
        drawRuns(ctx,402,136,[{t:"fragments",s:28}],"#f07818");
        drawRuns(ctx,476,451,[{t:"SFFs",s:28}],"#808080");
        drawRuns(ctx,131,544,M1(28.5));
        drawRuns(ctx,36,326,E1(28),INK,true);
      })],
    });
    // (b)
    cfgs.push({
      type:"scatter",
      data:{datasets:[
        {type:"scatter",data:xy(bArrow),showLine:true,borderColor:"#0000ff",borderWidth:2.4,pointRadius:[0,6],pointStyle:"triangle",pointBackgroundColor:"#0000ff",pointBorderColor:"#0000ff",order:1},
        lineDs(bBlueCurve,"#0000ff",3,{borderDash:[12,6,3,6],tension:0.3,order:2}),
        {type:"scatter",data:xy(bMagenta),pointRadius:4,backgroundColor:"#ff00e0",borderWidth:0,order:3},
        {type:"scatter",data:xy(bCircles),pointRadius:5.6,backgroundColor:"#e4e4e4",borderColor:"#0a0a0a",borderWidth:2,order:4,clip:false},
        lineDs(bHistogram,"#111",2.2,{stepped:"before",order:5}),
      ]},
      options:opts(FB,{min:75,max:525,major:eMajor},{type:"logarithmic",min:0.001,max:100,major:decadesB},false),
      plugins:[decorPlugin([
        {axis:"x",side:"top",major:eMajor,minor:eMinor,out:false},
        {axis:"y",side:"left",major:decadesB,minor:minorsOf(decadesB),out:true},
        {axis:"y",side:"right",major:decadesB,minor:minorsOf(decadesB),out:false},
      ],(ctx)=>{
        drawRuns(ctx,702,53,[{t:"(b)",s:28}]);
        drawRuns(ctx,625,262,[{t:"Yield (mb/MeV)",s:29}],INK,true);
        drawRuns(ctx,1079,258,[{t:"E",s:30},{t:"c.m.",s:18,dy:6},{t:"(",s:30},{t:"136",s:18,dy:-12},{t:"Xe)",s:30}],"#2020e0",true);
      })],
    });
    // (c)
    cfgs.push({
      type:"scatter",
      data:{datasets:[
        {type:"scatter",data:cPoints.map(([x,y])=>({x,y})),pointRadius:3.6,backgroundColor:"#ffffff",borderColor:"#111",borderWidth:1.3,clip:false},
      ]},
      options:opts(FC,{min:75,max:525,major:eMajor},{min:0,max:35,major:cYMajor}),
      plugins:[decorPlugin([
        {axis:"x",side:"bottom",major:eMajor,minor:eMinor,out:true},
        {axis:"x",side:"top",major:eMajor,minor:eMinor,out:false},
        {axis:"y",side:"left",major:cYMajor,minor:cYMinor,out:true},
        {axis:"y",side:"right",major:cYMajor,minor:cYMinor,out:false},
      ],(ctx)=>{
        drawRuns(ctx,702,340,[{t:"(c)",s:28}]);
        drawRuns(ctx,850,544,E1(28.5));
        drawRuns(ctx,631,441,[{t:"\u03C3",s:30,i:true},{t:"M",s:17,i:true,dy:6},{t:"1",s:11,dy:9},{t:" (u)",s:28}],INK,true);
      },{ds:0,data:cPoints})],
    });
    // (d)
    cfgs.push({
      type:"scatter",
      data:{datasets:[
        lineDs(dTheory,"#111",3.8,{order:1,tension:0.25}),
        lineDs(dSff,"#111",3,{order:2,borderDash:[15,10],tension:0.2}),
        {type:"scatter",data:xy(dExperiment),pointRadius:3.7,backgroundColor:"#b4b4b4",borderColor:"#222",borderWidth:1.1,order:3},
      ]},
      options:opts(FD,{min:60,max:260,major:massMajor},{type:"logarithmic",min:0.0001,max:1000,major:decadesD}),
      plugins:[decorPlugin([
        {axis:"x",side:"bottom",major:massMajor,minor:massMinorD,out:true},
        {axis:"x",side:"top",major:massMajor,minor:massMinorD,out:false},
        {axis:"y",side:"left",major:decadesD,minor:minorsOf(decadesD),out:true},
        {axis:"y",side:"right",major:decadesD,minor:minorsOf(decadesD),out:false},
      ],(ctx)=>{
        drawRuns(ctx,115,622,[{t:"(d)",s:28}]);
        drawRuns(ctx,278,613,[{t:"Fragments with  ",s:19},{t:"E",s:19,i:true},{t:"1 c.m.",s:11.5,dy:4},{t:"< 420 MeV",s:19}]);
        ctx.save(); ctx.beginPath(); ctx.arc(401,637,3.5,0,Math.PI*2); ctx.fillStyle="#e0e0e0"; ctx.fill(); ctx.strokeStyle="#222"; ctx.lineWidth=1.2; ctx.stroke();
        ctx.strokeStyle="#111"; ctx.lineWidth=3.8; ctx.beginPath(); ctx.moveTo(394,661); ctx.lineTo(438,661); ctx.stroke();
        ctx.lineWidth=3; ctx.setLineDash([15,10]); ctx.beginPath(); ctx.moveTo(394,708); ctx.lineTo(438,708); ctx.stroke(); ctx.restore();
        drawRuns(ctx,446,643,[{t:"experiment",s:19}]);
        drawRuns(ctx,446,667,[{t:"theory",s:19}]);
        drawRuns(ctx,446,714,[{t:"SFFs (theory)",s:19}]);
        drawRuns(ctx,131,1113,M1(28.5));
        drawRuns(ctx,46,888,[{t:"Yield (mb/u)",s:29}],INK,true);
      })],
    });
    // (e)
    cfgs.push({
      type:"scatter",
      data:{datasets:[
        lineDs(eTlf,"#f01020",3.4,{order:1,borderDash:[16,12],tension:0.25}),
        lineDs(ePlf,"#0a7a14",3.4,{order:2,tension:0.3}),
        {type:"scatter",data:xy(eGreen),pointStyle:"triangle",pointRadius:5,backgroundColor:"#00e000",borderColor:"#10b010",borderWidth:0.6,order:3},
        {type:"scatter",data:xy(ePurple),pointStyle:"cross",pointRadius:3.4,borderColor:"#7a3a90",borderWidth:0.6,order:3.5},
        {type:"scatter",data:xy(ePurple),pointStyle:"rectRot",pointRadius:4.6,backgroundColor:"#d76ee8",borderColor:"#a050b8",borderWidth:0.6,order:4},
      ]},
      options:opts(FE,{min:60,max:260,major:massMajor},{type:"logarithmic",min:0.0001,max:1000,major:decadesD}),
      plugins:[decorPlugin([
        {axis:"x",side:"bottom",major:massMajor,minor:massMinorD,out:true},
        {axis:"x",side:"top",major:massMajor,minor:massMinorD,out:false},
        {axis:"y",side:"left",major:decadesD,minor:minorsOf(decadesD),out:true},
        {axis:"y",side:"right",major:decadesD,minor:minorsOf(decadesD),out:false},
      ],(ctx)=>{
        drawRuns(ctx,702,622,[{t:"(e)",s:28}]);
        drawRuns(ctx,915,614,[{t:"MNT fragments",s:19}]);
        drawRuns(ctx,948,637,[{t:"E",s:19,i:true},{t:"1 c.m.",s:11.5,dy:4},{t:"< 300 MeV",s:19}]);
        drawRuns(ctx,948,667,[{t:"300  <  ",s:19},{t:"E",s:19,i:true},{t:"1 c.m.",s:11.5,dy:4},{t:"< 420 MeV",s:19}]);
        drawRuns(ctx,1034,719,[{t:"Calculations",s:19}]);
        drawRuns(ctx,1087,743,[{t:"PLFs",s:19}]);
        drawRuns(ctx,1087,767,[{t:"TLFs",s:19}]);
        ctx.save();
        ctx.fillStyle="#d76ee8"; ctx.beginPath(); ctx.moveTo(923,625); ctx.lineTo(928,631); ctx.lineTo(923,637); ctx.lineTo(918,631); ctx.closePath(); ctx.fill();
        ctx.fillStyle="#00e000"; ctx.beginPath(); ctx.moveTo(923,655); ctx.lineTo(929,664); ctx.lineTo(917,664); ctx.closePath(); ctx.fill();
        ctx.strokeStyle="#0a7a14"; ctx.lineWidth=3.4; ctx.beginPath(); ctx.moveTo(1035,737); ctx.lineTo(1080,737); ctx.stroke();
        ctx.strokeStyle="#f01020"; ctx.setLineDash([16,12]); ctx.beginPath(); ctx.moveTo(1035,761); ctx.lineTo(1080,761); ctx.stroke();
        ctx.restore();
        drawRuns(ctx,718,1113,M1(28.5));
        drawRuns(ctx,625,888,[{t:"Yield (mb/u)",s:29}],INK,true);
      })],
    });
    const charts = cfgs.map((c,i) => new Chart(refs[i].current as any, c));
    return () => charts.forEach(c => c.destroy());
  }, []);
  return (
    <div style={{position:"absolute",left:0,top:0,width:W,height:H,overflow:"hidden",background:"#fff"}}>
      {refs.map((r,i) => <canvas key={i} ref={r} width={W} height={H} style={{position:"absolute",left:0,top:0,display:"block"}} />)}
    </div>
  );
}
